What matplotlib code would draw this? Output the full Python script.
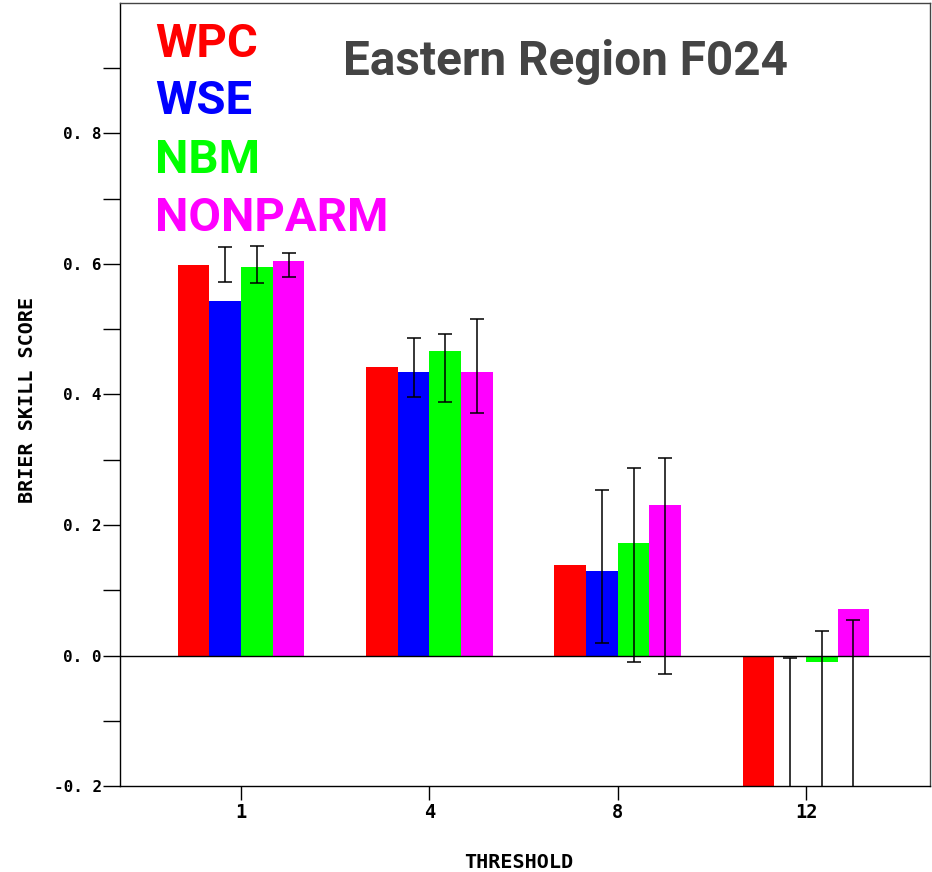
import matplotlib.pyplot as plt
import numpy as np

thresholds = ['1', '4', '8', '12']
models = ['WPC', 'WSE', 'NBM', 'NONPARM']
colors = ['#ff0000', '#0000ff', '#00ff00', '#ff00ff']

# Brier skill score per model, per threshold
wpc = [0.599, 0.442, 0.138, -0.26]
wse = [0.543, 0.434, 0.129, -0.003]
nbm = [0.595, 0.466, 0.172, -0.010]
nonparm = [0.604, 0.434, 0.230, 0.072]

# confidence interval bounds (WPC has none)
wse_lo = [0.572, 0.396, 0.019, -0.35]
wse_hi = [0.626, 0.487, 0.254, -0.004]
nbm_lo = [0.571, 0.389, -0.010, -0.35]
nbm_hi = [0.627, 0.492, 0.287, 0.037]
nonparm_lo = [0.580, 0.372, -0.029, -0.35]
nonparm_hi = [0.617, 0.516, 0.303, 0.054]

yticks = [-0.2, 0.0, 0.2, 0.4, 0.6, 0.8]
ytick_labels = ['-0. 2', '0. 0', '0. 2', '0. 4', '0. 6', '0. 8']

values = [wpc, wse, nbm, nonparm]
bounds = [None, (wse_lo, wse_hi), (nbm_lo, nbm_hi), (nonparm_lo, nonparm_hi)]

fig = plt.figure(figsize=(9.32, 8.72), dpi=100)
ax = fig.add_axes([0.1288, 0.0986, 0.8692, 0.898])

x = np.arange(len(thresholds))
w = 0.168
for i in range(4):
    pos = x + (i - 1.5) * w
    ax.bar(pos, values[i], width=w, color=colors[i], zorder=2)
    if bounds[i] is not None:
        lo, hi = np.array(bounds[i][0]), np.array(bounds[i][1])
        ax.errorbar(pos, (lo + hi) / 2, yerr=(hi - lo) / 2,
                    fmt='none', ecolor='black', elinewidth=1.1,
                    capsize=5, capthick=1.1, zorder=3)

ax.axhline(0, color='black', linewidth=1.0, zorder=2.5)

ax.set_xlim(-0.643, 3.659)
ax.set_ylim(-0.2, 1.0)
ax.set_xticks(x)
ax.set_xticklabels(thresholds)
ax.set_yticks(yticks)
ax.set_yticklabels(ytick_labels)
ax.set_yticks(np.arange(-0.1, 1.0, 0.2), minor=True)

for lab in ax.get_yticklabels():
    lab.set_fontfamily('DejaVu Sans Mono')
    lab.set_fontweight('bold')
    lab.set_fontsize(11.5)
for lab in ax.get_xticklabels():
    lab.set_fontfamily('DejaVu Sans Mono')
    lab.set_fontweight('bold')
    lab.set_fontsize(13.5)
ax.tick_params(axis='y', which='both', direction='out', length=12, width=1.0, pad=1)
ax.tick_params(axis='x', which='both', direction='out', length=10, width=1.0, pad=2)

for s in ax.spines.values():
    s.set_linewidth(1.0)
ax.spines['top'].set_color('#444444')
ax.spines['right'].set_color('#444444')

tfont = dict(family='DejaVu Sans Mono', weight='bold', size=14.5)
fig.text(0.0300, 1 - 400 / 872, 'BRIER SKILL SCORE', rotation=90, ha='center', va='center', **tfont)
fig.text(519 / 932, 1 - 862 / 872, 'THRESHOLD', ha='center', va='center', **tfont)

lfont = dict(family='Roboto', weight='bold', size=34)
ys = [57, 114, 173, 231]
for name, c, yy in zip(models, colors, ys):
    fig.text(155 / 932, 1 - yy / 872, name, color=c, ha='left', va='baseline', **lfont)
fig.text(343 / 932, 1 - 75 / 872, 'Eastern Region F024', color='#444444',
         ha='left', va='baseline', family='Roboto', weight='bold', size=34.4)

fig.savefig('out.png', dpi=100)
